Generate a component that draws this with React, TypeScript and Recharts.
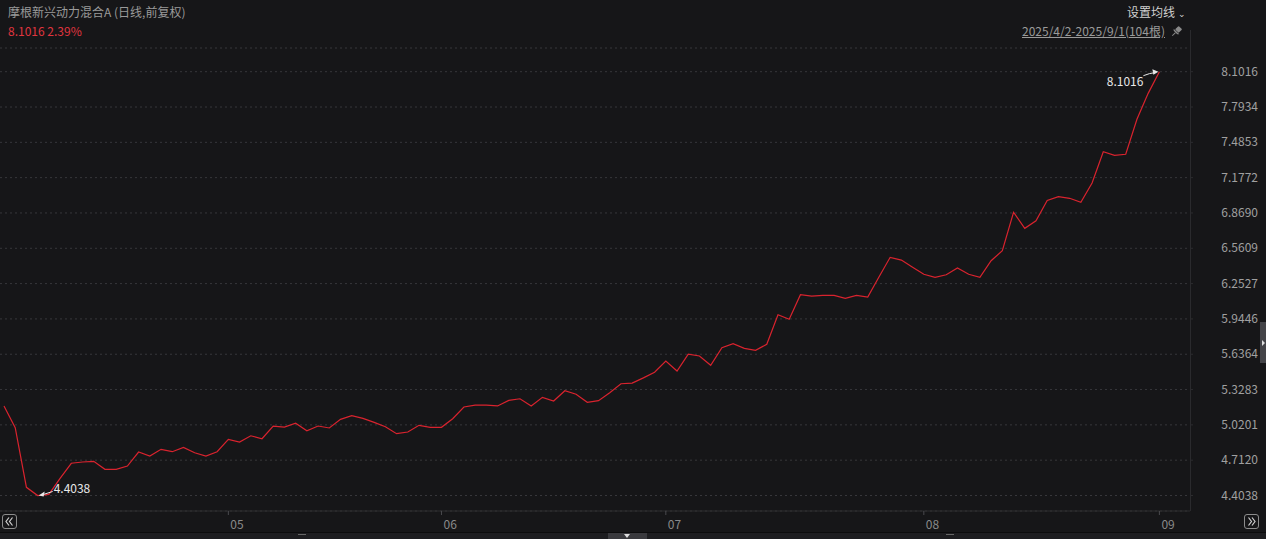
import { ComposedChart, Line, XAxis, YAxis, CartesianGrid, ReferenceDot } from 'recharts';

// trading days 2025/4/2 - 2025/9/1 (104 bars)
const dates = [
  '04-02', '04-03', '04-07', '04-08', '04-09', '04-10', '04-11', '04-14', '04-15', '04-16',
  '04-17', '04-18', '04-21', '04-22', '04-23', '04-24', '04-25', '04-28', '04-29', '04-30',
  '05-06', '05-07', '05-08', '05-09', '05-12', '05-13', '05-14', '05-15', '05-16', '05-19',
  '05-20', '05-21', '05-22', '05-23', '05-26', '05-27', '05-28', '05-29', '05-30',
  '06-03', '06-04', '06-05', '06-06', '06-09', '06-10', '06-11', '06-12', '06-13', '06-16',
  '06-17', '06-18', '06-19', '06-20', '06-23', '06-24', '06-25', '06-26', '06-27', '06-30',
  '07-01', '07-02', '07-03', '07-04', '07-07', '07-08', '07-09', '07-10', '07-11', '07-14',
  '07-15', '07-16', '07-17', '07-18', '07-21', '07-22', '07-23', '07-24', '07-25', '07-28',
  '07-29', '07-30', '07-31',
  '08-01', '08-04', '08-05', '08-06', '08-07', '08-08', '08-11', '08-12', '08-13', '08-14',
  '08-15', '08-18', '08-19', '08-20', '08-21', '08-22', '08-25', '08-26', '08-27', '08-28',
  '08-29',
  '09-01',
];

const navValues = [
  5.185, 4.995, 4.475, 4.4038, 4.414, 4.554, 4.685, 4.696, 4.702, 4.632,
  4.632, 4.661, 4.783, 4.748, 4.807, 4.786, 4.824, 4.777, 4.748, 4.786,
  4.894, 4.870, 4.925, 4.899, 5.010, 5.001, 5.034, 4.969, 5.010, 4.993,
  5.068, 5.100, 5.077, 5.042, 5.004, 4.943, 4.958, 5.016, 4.999,
  4.999, 5.074, 5.176, 5.193, 5.193, 5.185, 5.234, 5.248, 5.185, 5.260,
  5.228, 5.318, 5.287, 5.217, 5.231, 5.301, 5.379, 5.385, 5.430, 5.479,
  5.577, 5.490, 5.638, 5.621, 5.540, 5.693, 5.728, 5.688, 5.671, 5.723,
  5.981, 5.941, 6.156, 6.144, 6.150, 6.150, 6.124, 6.150, 6.136, 6.310,
  6.482, 6.458, 6.395,
  6.334, 6.308, 6.330, 6.389, 6.334, 6.308, 6.452, 6.540, 6.875, 6.735,
  6.801, 6.978, 7.012, 6.997, 6.962, 7.130, 7.403, 7.372, 7.381, 7.686,
  7.9125,
  8.1016,
];

const priceTicks = [4.4038, 4.7120, 5.0201, 5.3283, 5.6364, 5.9446, 6.2527, 6.5609, 6.8690, 7.1772, 7.4853, 7.7934, 8.1016];

const title = '摩根新兴动力混合A (日线,前复权)';
const lastText = '8.1016 2.39%';
const rangeText = '2025/4/2-2025/9/1(104根)';
const maText = '设置均线';

const chartData = navValues.map((v, i) => ({ idx: i, date: dates[i], v }));

// first bar of each month gets a tick
const monthTicks = chartData
  .filter((d, i) => i > 0 && d.date.slice(0, 2) !== dates[i - 1].slice(0, 2))
  .map(d => d.idx);

const minIdx = navValues.indexOf(Math.min(...navValues));
const maxIdx = navValues.indexOf(Math.max(...navValues));

const FONT = '"Noto Sans CJK SC", "Liberation Sans", sans-serif';
const BG = '#161618';
const RED = '#d9232e';

const XTick = ({ x, y, payload }: any) => (
  <text x={x + 2} y={y + 12} fill="#8a8a8a" fontSize={12} fontFamily={FONT} textAnchor="start">
    {dates[payload.value].slice(0, 2)}
  </text>
);

const YTick = ({ x, y, payload }: any) => (
  <text x={x + 63} y={y + 4} fill="#a0a0a0" fontSize={12} fontFamily={FONT} textAnchor="end">
    {payload.value.toFixed(4)}
  </text>
);

const MinMark = ({ cx, cy }: any) => (
  <g>
    <line x1={cx + 15} y1={cy - 4} x2={cx + 4} y2={cy - 0.5} stroke="#e8e8e8" strokeWidth={1} />
    <path d={`M${cx + 1},${cy} L${cx + 7},${cy - 4} L${cx + 6},${cy + 1} Z`} fill="#e8e8e8" />
    <text x={cx + 16} y={cy - 3} fill="#e8e8e8" fontSize={12} fontFamily={FONT}>
      {navValues[minIdx].toFixed(4)}
    </text>
  </g>
);

const MaxMark = ({ cx, cy }: any) => (
  <g>
    <path d={`M${cx - 16},${cy + 4} Q${cx - 10},${cy + 1.5} ${cx - 4},${cy + 0.8}`} stroke="#e8e8e8" strokeWidth={1} fill="none" />
    <path d={`M${cx - 1},${cy} L${cx - 7},${cy - 2.5} L${cx - 6},${cy + 3} Z`} fill="#e8e8e8" />
    <text x={cx - 16} y={cy + 14} fill="#e8e8e8" fontSize={12} fontFamily={FONT} textAnchor="end">
      {navValues[maxIdx].toFixed(4)}
    </text>
  </g>
);

const NavButton = ({ left, dir }: { left: number; dir: 1 | -1 }) => (
  <svg style={{ position: 'absolute', left, top: 514 }} width={15} height={15}>
    <rect x={0.5} y={0.5} width={14} height={14} rx={2.5} fill="none" stroke="#8c8c8c" />
    {dir < 0 ? (
      <path d="M7,3.5 L4,7.5 L7,11.5 M10.5,3.5 L7.5,7.5 L10.5,11.5" stroke="#cfcfcf" strokeWidth={1.2} fill="none" />
    ) : (
      <path d="M4.5,3.5 L7.5,7.5 L4.5,11.5 M8,3.5 L11,7.5 L8,11.5" stroke="#cfcfcf" strokeWidth={1.2} fill="none" />
    )}
  </svg>
);

export default function App() {
  return (
    <div style={{ position: 'absolute', left: 0, top: 0, width: 1266, height: 539, background: BG, overflow: 'hidden', fontFamily: FONT }}>
      <ComposedChart
        width={1266}
        height={539}
        data={chartData}
        margin={{ top: 48, right: 0, left: 0, bottom: 0 }}
      >
        <CartesianGrid vertical={false} stroke="#37373b" strokeDasharray="2 3" />
        <XAxis
          dataKey="idx"
          type="number"
          domain={[-0.3566, 105.73]}
          ticks={monthTicks}
          height={28}
          allowDataOverflow
          axisLine={{ stroke: '#2c2c2f' }}
          tickLine={{ stroke: '#4a4a4e' }}
          tickSize={4}
          tick={<XTick />}
        />
        <YAxis
          orientation="right"
          width={76}
          domain={[4.2686, 8.3084]}
          ticks={priceTicks}
          allowDataOverflow
          axisLine={false}
          tickLine={{ stroke: '#2c2c2f' }}
          tickSize={3}
          tick={<YTick />}
        />
        <Line
          type="linear"
          dataKey="v"
          stroke={RED}
          strokeWidth={1.2}
          dot={false}
          isAnimationActive={false}
        />
        <ReferenceDot x={minIdx} y={navValues[minIdx]} r={0} shape={<MinMark />} />
        <ReferenceDot x={maxIdx} y={navValues[maxIdx]} r={0} shape={<MaxMark />} />
      </ComposedChart>

      {/* header texts */}
      <div style={{ position: 'absolute', left: 8, top: 3, fontSize: 12, color: '#9a9a9a', whiteSpace: 'nowrap' }}>{title}</div>
      <div style={{ position: 'absolute', left: 8, top: 22, fontSize: 12, color: '#e0353f', whiteSpace: 'nowrap' }}>{lastText}</div>
      <div style={{ position: 'absolute', left: 1127, top: 3, fontSize: 12, color: '#d0d0d0', whiteSpace: 'nowrap' }}>{maText} <span style={{ fontSize: 9 }}>⌄</span></div>
      <div style={{ position: 'absolute', left: 1022, top: 22, fontSize: 12, color: '#9a9a9a', textDecoration: 'underline', whiteSpace: 'nowrap' }}>{rangeText}</div>
      <svg style={{ position: 'absolute', left: 1170, top: 25 }} width={13} height={13}>
        <g transform="rotate(45 6.5 6.5)" fill="#8a8a8a">
          <rect x={4} y={1} width={5} height={5} rx={0.8} />
          <path d="M2.5,6.5 L10.5,6.5 L9,8 L4,8 Z" />
          <rect x={6} y={8} width={1} height={4.5} />
        </g>
      </svg>

      {/* right axis separator */}
      <div style={{ position: 'absolute', left: 1190, top: 30, width: 1, height: 481, background: '#2a2a2d' }} />

      {/* scroll buttons */}
      <NavButton left={2} dir={-1} />
      <NavButton left={1244} dir={1} />

      {/* bottom bar */}
      <div style={{ position: 'absolute', left: 0, top: 532, width: 1266, height: 1, background: '#0c0c0d' }} />
      <div style={{ position: 'absolute', left: 0, top: 533, width: 1266, height: 6, background: '#1d1d20' }} />
      <div style={{ position: 'absolute', left: 298, top: 534, width: 8, height: 4, borderTop: '1px solid #666', borderBottom: '1px solid #666' }} />
      <div style={{ position: 'absolute', left: 946, top: 534, width: 8, height: 4, borderTop: '1px solid #666', borderBottom: '1px solid #666' }} />
      <div style={{ position: 'absolute', left: 608, top: 533, width: 39, height: 6, background: '#3a3a3e' }} />
      <div style={{ position: 'absolute', left: 624, top: 534, width: 0, height: 0, borderLeft: '3px solid transparent', borderRight: '3px solid transparent', borderTop: '4px solid #ddd' }} />

      {/* right side strip handle */}
      <div style={{ position: 'absolute', left: 1260, top: 322, width: 6, height: 41, background: '#444448' }} />
      <div style={{ position: 'absolute', left: 1262, top: 340, width: 0, height: 0, borderTop: '3px solid transparent', borderBottom: '3px solid transparent', borderLeft: '3px solid #ddd' }} />
    </div>
  );
}
